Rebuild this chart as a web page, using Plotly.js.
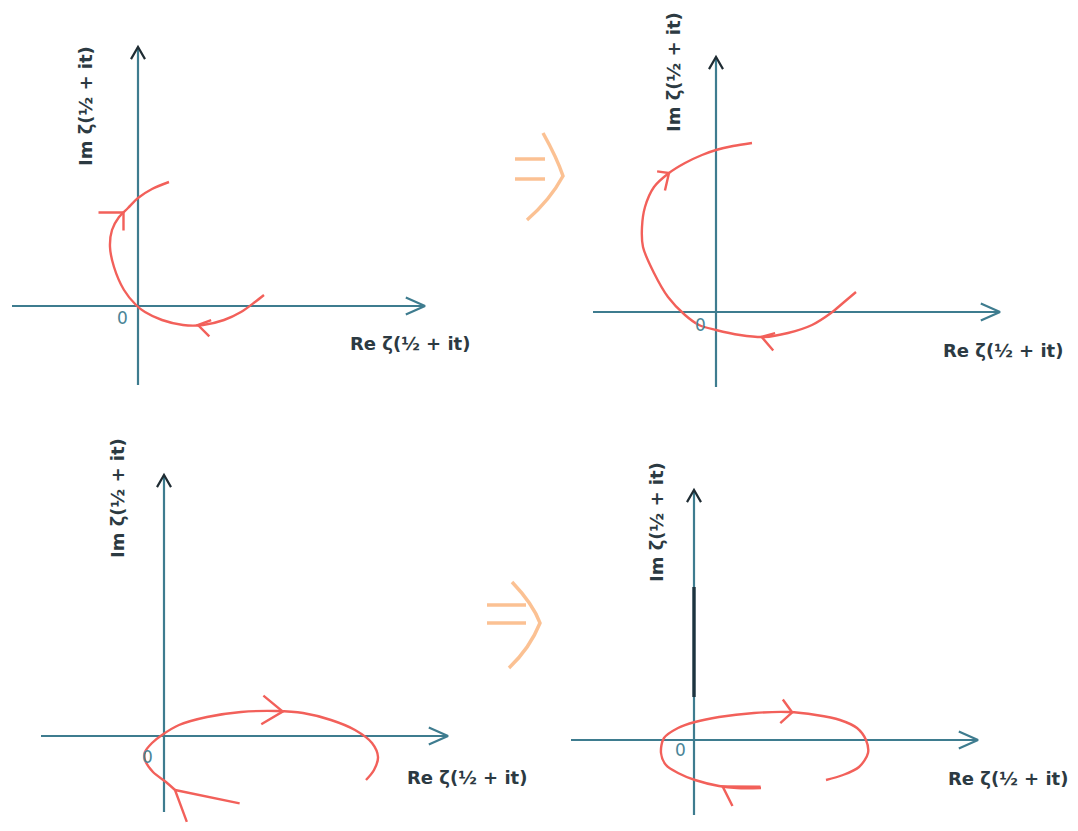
<!DOCTYPE html>
<html><head><meta charset="utf-8">
<script src="https://cdn.plot.ly/plotly-3.0.1.min.js"></script>
<style>html,body{margin:0;padding:0;background:#fff;overflow:hidden}#chart{width:1078px;height:831px}</style>
</head><body><div id="chart"></div>
<script>
// ---- Data: path of zeta(1/2 + it) in each panel (local units, origin = 0) ----
const p1Re = [126,117,103,86,65,45,24,7,-2,-14,-24,-28,-26,-19,-10,0,14,31];
const p1Im = [11,4,-6,-14,-19,-19,-14,-6,1,16,39,59,76,89,98,108,117,124];
const p2Re = [140,127,115,96,72,48,24,0,-17,-31,-48,-62,-73,-74,-71,-62,-47,-31,-14,0,17,36];
const p2Im = [20,9,-1,-13,-21,-25,-23,-18,-13,-3,15,39,65,85,105,125,139,149,157,162,166,169];
const p3Re = [11,2,-11,-19,-19,-12,-2,15,43,77,112,139,167,191,208,214,210,202];
const p3Im = [-54,-46,-36,-24,-16,-7,1,11,19,24,25,23,16,6,-7,-21,-34,-44];
const p4Re = [67,43,25,1,-16,-28,-33,-30,-16,1,25,60,94,122,146,163,172,174,165,149,132];
const p4Im = [-48,-48,-46,-40,-33,-25,-13,2,12,18,23,27,28,25,20,12,0,-13,-27,-35,-40];
// critical-line segment on the imaginary axis of panel 4
const p4SegIm = [43,153];
// axis extents per panel
const axisReMin = [-126,-123,-123,-123];
const axisReMax = [287,284,284,284];
const axisImMin = [-79,-75,-76,-75];
const axisImMax = [259,255,261,250];
// positions (curve index) of direction arrows
const arrowAt = [[4.25,13.5],[5.1,16],[0,10.25],[1.8,12.15]];
const labelRe = 'Re ζ(½ + it)';
const labelIm = 'Im ζ(½ + it)';
const labelOrigin = '0';

// ---- Layout geometry ----
const W = 1078, H = 831;
const boxes = [[0,540,0,415],[540,1078,0,415],[0,540,415,831],[540,1078,415,831]];
const origins = [[138,306],[716,312],[164,736],[694,740]];
// arrow styles [len1, relAngle1, len2, relAngle2] (deg, relative to backward direction)
const arrowStyle = [
  [[14,20,16,-45],[25,-45,18,45]],
  [[14,20,18,-45],[12,-40,18,45]],
  [[66,30,34,-28],[25,-35,25,35]],
  [[38,6,22,-57],[16,-48,16,48]]
];
const curvesRe = [p1Re,p2Re,p3Re,p4Re];
const curvesIm = [p1Im,p2Im,p3Im,p4Im];

const RED = '#f2605a', AXIS = '#3e7c8f', DARK = '#1f2c33', TEXT = '#2c3a42';

const traces = [];
const annotations = [];
const layout = {
  width: W, height: H, margin: {l:0,r:0,t:0,b:0},
  paper_bgcolor: '#ffffff', plot_bgcolor: 'rgba(0,0,0,0)',
  showlegend: false, hovermode: false
};

function chevron(tx, ty, backAng, l1, a1, l2, a2) {
  const r1 = (backAng + a1) * Math.PI/180, r2 = (backAng + a2) * Math.PI/180;
  return {
    x: [tx + l1*Math.cos(r1), tx, tx + l2*Math.cos(r2)],
    y: [ty + l1*Math.sin(r1), ty, ty + l2*Math.sin(r2)]
  };
}

for (let k = 0; k < 4; k++) {
  const id = k === 0 ? '' : String(k+1);
  const xa = 'x' + id, ya = 'y' + id;
  const [px0,px1,py0,py1] = boxes[k];
  const [ox, oy] = origins[k];
  layout['xaxis' + id] = {domain:[px0/W, px1/W], range:[px0-ox, px1-ox], visible:false, fixedrange:true, anchor: ya};
  layout['yaxis' + id] = {domain:[1-py1/H, 1-py0/H], range:[oy-py1, oy-py0], visible:false, fixedrange:true, anchor: xa};

  // axes
  traces.push({x:[axisReMin[k], axisReMax[k]], y:[0,0], xaxis:xa, yaxis:ya, mode:'lines', line:{color:AXIS, width:2.2}});
  traces.push({x:[0,0], y:[axisImMin[k], axisImMax[k]], xaxis:xa, yaxis:ya, mode:'lines', line:{color:AXIS, width:2.2}});
  const hc = chevron(axisReMax[k], 0, 180, 21, -24, 21, 24);
  traces.push({x:hc.x, y:hc.y, xaxis:xa, yaxis:ya, mode:'lines', line:{color:AXIS, width:2.2}});
  const vc = chevron(0, axisImMax[k], 270, 14, -30, 14, 30);
  traces.push({x:vc.x, y:vc.y, xaxis:xa, yaxis:ya, mode:'lines', line:{color:DARK, width:2.2}});

  if (k === 3) {
    traces.push({x:[0,0], y:p4SegIm, xaxis:xa, yaxis:ya, mode:'lines', line:{color:'#1d3440', width:3.4}});
  }

  // curve
  const cr = curvesRe[k], ci = curvesIm[k];
  traces.push({x:cr, y:ci, xaxis:xa, yaxis:ya, mode:'lines', line:{color:RED, width:2.4, shape:'spline', smoothing:0.9}});

  // direction arrows
  arrowAt[k].forEach((t, j) => {
    let i = Math.floor(t); if (i >= cr.length-1) i = cr.length-2;
    const f = t - i;
    const tx = cr[i] + f*(cr[i+1]-cr[i]), ty = ci[i] + f*(ci[i+1]-ci[i]);
    const dx = cr[i+1]-cr[i], dy = ci[i+1]-ci[i];
    const back = Math.atan2(-dy, -dx) * 180/Math.PI;
    const s = arrowStyle[k][j];
    const c = chevron(tx, ty, back, s[0], s[1], s[2], s[3]);
    traces.push({x:c.x, y:c.y, xaxis:xa, yaxis:ya, mode:'lines', line:{color:RED, width:2.4}});
  });
}

// labels (positions relative to each origin)
const imPos = [[-53,200],[-43,240],[-47,238],[-38,218]];
const rePos = [[272,-37],[287,-38],[303,-41],[314,-38]];
const zeroPos = [[-16,-12],[-16,-13],[-17,-21],[-14,-10]];
for (let k = 0; k < 4; k++) {
  const id = k === 0 ? '' : String(k+1);
  const f = {family:'DejaVu Sans, Liberation Sans, sans-serif', size:18, color:TEXT, weight:'bold'};
  annotations.push({xref:'x'+id, yref:'y'+id, x:imPos[k][0], y:imPos[k][1], text:labelIm, showarrow:false, textangle:-90, font:f});
  annotations.push({xref:'x'+id, yref:'y'+id, x:rePos[k][0], y:rePos[k][1], text:labelRe, showarrow:false, font:f});
  annotations.push({xref:'x'+id, yref:'y'+id, x:zeroPos[k][0], y:zeroPos[k][1], text:labelOrigin, showarrow:false,
    font:{family:'DejaVu Sans, sans-serif', size:17, color:'#4a8497'}});
}
layout.annotations = annotations;

// overlay axis in pixel units for the "implies" arrows between panels
layout.xaxis5 = {domain:[0,1], range:[0,W], visible:false, fixedrange:true, anchor:'y5'};
layout.yaxis5 = {domain:[0,1], range:[H,0], visible:false, fixedrange:true, anchor:'x5'};
traces.push({x:[], y:[], xaxis:'x5', yaxis:'y5', mode:'lines'});
const ORANGE = 'rgba(250,182,128,0.85)';
layout.shapes = [
  {type:'path', xref:'x5', yref:'y5', path:'M515,159 L545,159 M515,179 L545,179', line:{color:ORANGE, width:3.5}},
  {type:'path', xref:'x5', yref:'y5', path:'M543,133 Q557,158 563,176 Q550,200 527,220', line:{color:ORANGE, width:3.5}},
  {type:'path', xref:'x5', yref:'y5', path:'M487,605 L526,605 M487,623 L526,623', line:{color:ORANGE, width:3.5}},
  {type:'path', xref:'x5', yref:'y5', path:'M512,582 Q533,604 540,623 Q530,648 509,668', line:{color:ORANGE, width:3.5}}
];

Plotly.newPlot('chart', traces, layout, {displayModeBar:false, staticPlot:true});
</script></body></html>
